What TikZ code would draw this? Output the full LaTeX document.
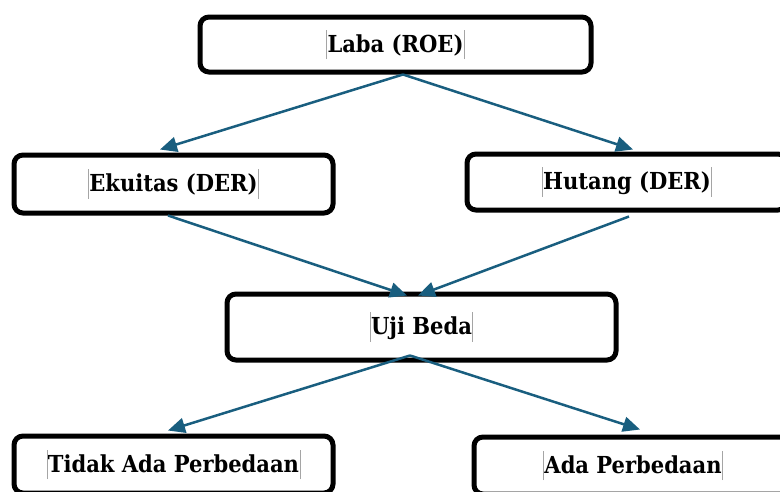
\documentclass[tikz,border=0pt]{standalone}
\usepackage{fontspec}
\setmainfont{DejaVu Serif Condensed}
\usetikzlibrary{arrows.meta}
\definecolor{arrc}{RGB}{25,94,127}
\definecolor{barc}{RGB}{165,165,165}
\newcommand{\cbar}{\textcolor{barc}{\rule[-0.3em]{0.7pt}{1.25em}}}
\newcommand{\cb}[1]{\cbar\kern0.5pt #1\kern0.5pt\cbar}
\tikzset{
  box/.style={draw=black, line width=5pt, rounded corners=9pt, fill=white,
    inner sep=0pt, font=\fontsize{23.4}{26}\selectfont\bfseries},
  arr/.style={draw=arrc, line width=2.5pt, -{Triangle[length=17pt,width=15pt]}}
}
\begin{document}
\begin{tikzpicture}[x=1pt,y=-1pt]
\useasboundingbox[clip] (0,0) rectangle (780,491);
\node[box, minimum width=391pt, minimum height=55pt] (roe) at (395.5,44.5) {\cb{Laba (ROE)}};
\node[box, minimum width=319pt, minimum height=58pt] (ekuitas) at (173.5,184) {\cb{Ekuitas (DER)}};
\node[box, minimum width=320pt, minimum height=56pt] (hutang) at (627,182) {\cb{Hutang (DER)}};
\node[box, minimum width=389pt, minimum height=66pt] (uji) at (421.5,327) {\cb{Uji Beda}};
\node[box, minimum width=319pt, minimum height=57pt] (tidak) at (173.5,464.5) {\cb{Tidak Ada Perbedaan}};
\node[box, minimum width=318pt, minimum height=57pt] (ada) at (633,465.5) {\cb{Ada Perbedaan}};
\draw[arr] ([xshift=7.5pt]roe.south) -- ([xshift=-13.5pt,yshift=3pt]ekuitas.north);
\draw[arr] ([xshift=7.5pt]roe.south) -- ([xshift=6pt,yshift=2pt]hutang.north);
\draw[arr] ([xshift=-5.5pt]ekuitas.south) -- ([xshift=-14.5pt,yshift=-4pt]uji.north);
\draw[arr] ([xshift=2pt,yshift=-4pt]hutang.south) -- ([xshift=-3.5pt,yshift=-4pt]uji.north);
\draw[arr] ([xshift=-11.5pt,yshift=7pt]uji.south) -- ([xshift=-5.5pt,yshift=3pt]tidak.north);
\draw[arr] ([xshift=-11.5pt,yshift=7pt]uji.south) -- ([xshift=7pt,yshift=5pt]ada.north);
\end{tikzpicture}
\end{document}
